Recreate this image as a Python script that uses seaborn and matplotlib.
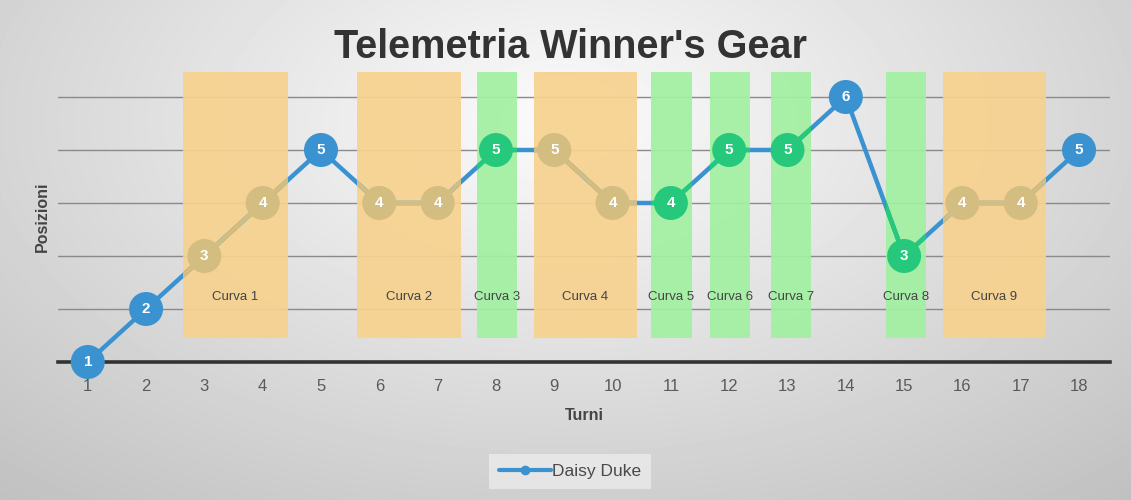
import numpy as np
import pandas as pd
import seaborn as sns
import matplotlib.pyplot as plt
from matplotlib.lines import Line2D
from matplotlib.path import Path
from matplotlib.patches import FancyBboxPatch

# data
turni = list(range(1, 19))
posizioni = [1, 2, 3, 4, 5, 4, 4, 5, 5, 4, 4, 5, 5, 6, 3, 4, 4, 5]

curve_nomi = ['Curva 1', 'Curva 2', 'Curva 3', 'Curva 4', 'Curva 5',
              'Curva 6', 'Curva 7', 'Curva 8', 'Curva 9']
curve_inizio = [2.63, 5.61, 7.67, 8.65, 10.66, 11.67, 12.72, 14.69, 15.67]
curve_fine = [4.43, 7.40, 8.36, 10.42, 11.36, 12.36, 13.40, 15.37, 17.43]
curve_tipo = ['lenta', 'lenta', 'veloce', 'lenta', 'veloce',
              'veloce', 'veloce', 'veloce', 'lenta']

BLUE = '#3a93d0'
TAN = '#d4bd80'
GREEN = '#26c97c'
BAND = {'lenta': '#f7d28f', 'veloce': '#a2f0a2'}
LINE = {'lenta': TAN, 'veloce': GREEN}


def zona(x):
    for a, b, t in zip(curve_inizio, curve_fine, curve_tipo):
        if a <= x <= b:
            return t
    return 'rettilineo'


df = pd.DataFrame({'turno': turni, 'posizione': posizioni})
df['zona'] = df['turno'].apply(zona)

sns.set_theme(style='white')
plt.rcParams['font.family'] = ['Liberation Sans', 'DejaVu Sans']

fig = plt.figure(figsize=(11.31, 5.0), dpi=100)

# soft radial grey background
bg = fig.add_axes([0, 0, 1, 1], zorder=-10)
yy, xx = np.mgrid[0:500, 0:1131]
r = np.sqrt(((xx - 560) / 900.0) ** 2 + ((yy - 120) / 520.0) ** 2)
bg.imshow(np.clip(0.985 - 0.24 * r, 0, 1), cmap='gray', vmin=0, vmax=1,
          aspect='auto', extent=[0, 1, 0, 1], origin='upper')
bg.axis('off')

ax = fig.add_axes([0.0513, 0.276, 0.9301, 0.583])
ax.set_facecolor('none')
ax.set_xlim(0.49, 18.53)
ax.set_ylim(1, 6.5)

# horizontal grid
for gy in [2, 3, 4, 5, 6]:
    ax.axhline(gy, color='#8a8a8a', lw=1, zorder=1)

# curve bands
clip_verts = {'lenta': [], 'veloce': []}
for nome, a, b, t in zip(curve_nomi, curve_inizio, curve_fine, curve_tipo):
    ax.add_patch(FancyBboxPatch((a, 1.45), b - a, 6.47 - 1.45,
                                boxstyle='square,pad=0', fc=BAND[t],
                                ec='none', alpha=0.92, zorder=2))
    ax.text((a + b) / 2, 2.23, nome, ha='center', va='center',
            fontsize=9.5, color='#444444', zorder=3)
    clip_verts[t].append(Path([(a, 0), (b, 0), (b, 8), (a, 8), (a, 0)],
                              closed=True))

# line: blue base, then recoloured inside bands
sns.lineplot(data=df, x='turno', y='posizione', color=BLUE, lw=3.2,
             ax=ax, zorder=4)
for t in ['lenta', 'veloce']:
    sns.lineplot(data=df, x='turno', y='posizione', color=LINE[t], lw=3.2,
                 ax=ax, zorder=4.5)
    ln = ax.lines[-1]
    ln.set_clip_path(Path.make_compound_path(*clip_verts[t]), ax.transData)

sns.scatterplot(data=df, x='turno', y='posizione', hue='zona',
                palette={'rettilineo': BLUE, 'lenta': TAN, 'veloce': GREEN},
                s=600, edgecolor='none', legend=False, ax=ax, zorder=5,
                clip_on=False)
for x, y in zip(turni, posizioni):
    ax.text(x, y, str(y), ha='center', va='center', color='white',
            fontsize=11, fontweight='bold', zorder=6, clip_on=False)

# axes styling
for s in ['top', 'right', 'left']:
    ax.spines[s].set_visible(False)
ax.spines['bottom'].set_color('#333333')
ax.spines['bottom'].set_linewidth(2.6)
ax.spines['bottom'].set_zorder(3)
ax.set_yticks([])
ax.set_xticks(turni)
ax.tick_params(axis='x', length=0, labelsize=12, labelcolor='#5a5a5a',
               pad=12)
ax.set_xlabel('Turni', fontsize=11.5, fontweight='bold', color='#444444',
              labelpad=10)
ax.set_ylabel('Posizioni', fontsize=11.5, fontweight='bold', color='#444444',
              labelpad=6)

fig.text(0.504, 0.906, "Telemetria Winner's Gear", ha='center', va='center',
         fontsize=28.5, fontweight='bold', color='#333333')

handle = Line2D([], [], color=BLUE, lw=3, marker='o', markersize=6)
leg = fig.legend([handle], ['Daisy Duke'], loc='center',
                 bbox_to_anchor=(0.504, 0.057), frameon=True, fontsize=12.5,
                 handlelength=3.0, handletextpad=0.1, borderpad=0.55,
                 borderaxespad=0, fancybox=False)
leg.get_frame().set_facecolor('#ebebeb')
leg.get_frame().set_edgecolor('none')
for txt in leg.get_texts():
    txt.set_color('#4a4a4a')

fig.savefig('out.png', dpi=100)
